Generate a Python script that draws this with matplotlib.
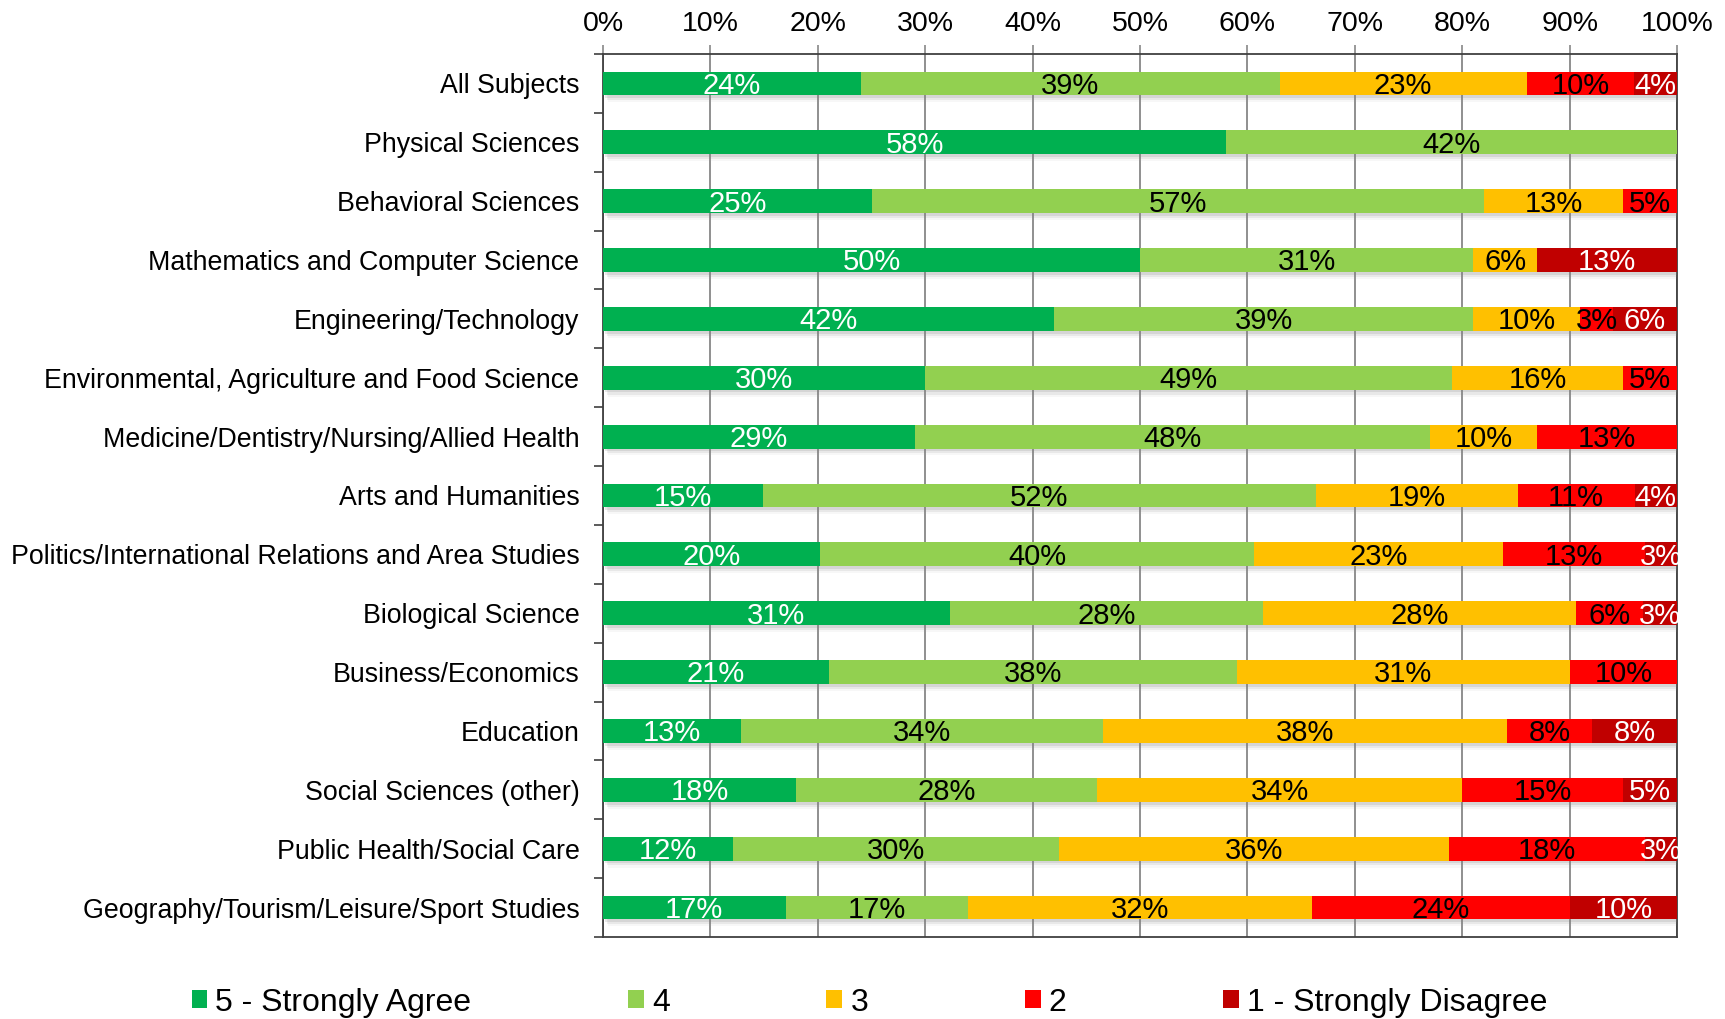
import numpy as np
import matplotlib
matplotlib.use("Agg")
import matplotlib.pyplot as plt
import matplotlib.patheffects as pe
from matplotlib.patches import Patch

plt.rcParams['font.family'] = ['Liberation Sans', 'DejaVu Sans']

# ------------------------- data -------------------------
categories = [
    "All Subjects",
    "Physical Sciences",
    "Behavioral Sciences",
    "Mathematics and Computer Science",
    "Engineering/Technology",
    "Environmental, Agriculture and Food Science",
    "Medicine/Dentistry/Nursing/Allied Health",
    "Arts and Humanities",
    "Politics/International Relations and Area Studies",
    "Biological Science",
    "Business/Economics",
    "Education",
    "Social Sciences (other)",
    "Public Health/Social Care",
    "Geography/Tourism/Leisure/Sport Studies",
]

series_names = ["5 - Strongly Agree", "4", "3", "2", "1 - Strongly Disagree"]

# percentages per response level, one list per series (top row first)
agree5 = [24, 58, 25, 50, 42, 30, 29, 15, 20, 31, 21, 13, 18, 12, 17]
level4 = [39, 42, 57, 31, 39, 49, 48, 52, 40, 28, 38, 34, 28, 30, 17]
level3 = [23, 0, 13, 6, 10, 16, 10, 19, 23, 28, 31, 38, 34, 36, 32]
level2 = [10, 0, 5, 0, 3, 5, 13, 11, 13, 6, 10, 8, 15, 18, 24]
disagree1 = [4, 0, 0, 13, 6, 0, 0, 4, 3, 3, 0, 8, 5, 3, 10]

colors = ["#00B050", "#92D050", "#FFC000", "#FF0000", "#C00000"]
text_colors = ["white", "black", "black", "black", "white"]

# ------------------------- plot -------------------------
vals = np.array([agree5, level4, level3, level2, disagree1], dtype=float)
# 100% stacked: each row normalised to its own total
widths = vals / vals.sum(axis=0) * 100
lefts = np.vstack([np.zeros(vals.shape[1]), np.cumsum(widths, axis=0)[:-1]])

fig = plt.figure(figsize=(17.25, 10.19), dpi=100)
ax = fig.add_axes([0.3496, 0.0805, 0.6226, 0.8665])

y = np.arange(len(categories))
shadow = [pe.SimplePatchShadow(offset=(1.5, -2.0), shadow_rgbFace="#7f7f7f", alpha=0.18),
          pe.SimplePatchShadow(offset=(2.5, -3.5), shadow_rgbFace="#7f7f7f", alpha=0.12),
          pe.SimplePatchShadow(offset=(3.5, -5.0), shadow_rgbFace="#9f9f9f", alpha=0.08),
          pe.Normal()]

for i in range(len(series_names)):
    ax.barh(y, widths[i], left=lefts[i], height=0.405, color=colors[i],
            label=series_names[i], zorder=3, path_effects=shadow)
    for j in range(len(categories)):
        if vals[i, j] > 0:
            ax.text(lefts[i, j] + widths[i, j] / 2, y[j] + 0.04, f"{int(vals[i, j])}%",
                    ha="center", va="center", fontsize=21, color=text_colors[i], zorder=4)

ax.set_xlim(0, 100)
ax.set_ylim(len(categories) - 0.5, -0.5)

ax.xaxis.tick_top()
ax.set_xticks(np.arange(0, 101, 10))
ax.set_xticklabels([f"{v}%" for v in range(0, 101, 10)], fontsize=20.5)
ax.tick_params(axis="x", direction="out", length=6.5, color="#878787", width=1.2, pad=6)
ax.grid(axis="x", color="#878787", lw=1.3, zorder=0)
ax.set_axisbelow(True)

ax.set_yticks(y)
ax.set_yticklabels(categories, fontsize=19.3)
ax.tick_params(axis="y", which="major", length=0, pad=17)
ax.set_yticks(np.arange(-0.5, len(categories)), minor=True)
ax.tick_params(axis="y", which="minor", direction="out", length=6.5, color="#404040", width=1.2)

for side in ["top", "left", "right", "bottom"]:
    ax.spines[side].set_color("#404040")
    ax.spines[side].set_linewidth(1.3)

handles = [Patch(facecolor=c, edgecolor="none") for c in colors]
fig.legend(handles, series_names, loc="center", bbox_to_anchor=(0.504, 0.016), ncol=5,
           frameon=False, fontsize=23, handlelength=0.5, handleheight=0.5,
           handletextpad=0.25, columnspacing=4.9, borderpad=0, borderaxespad=0)

fig.savefig("out.png", dpi=100)
